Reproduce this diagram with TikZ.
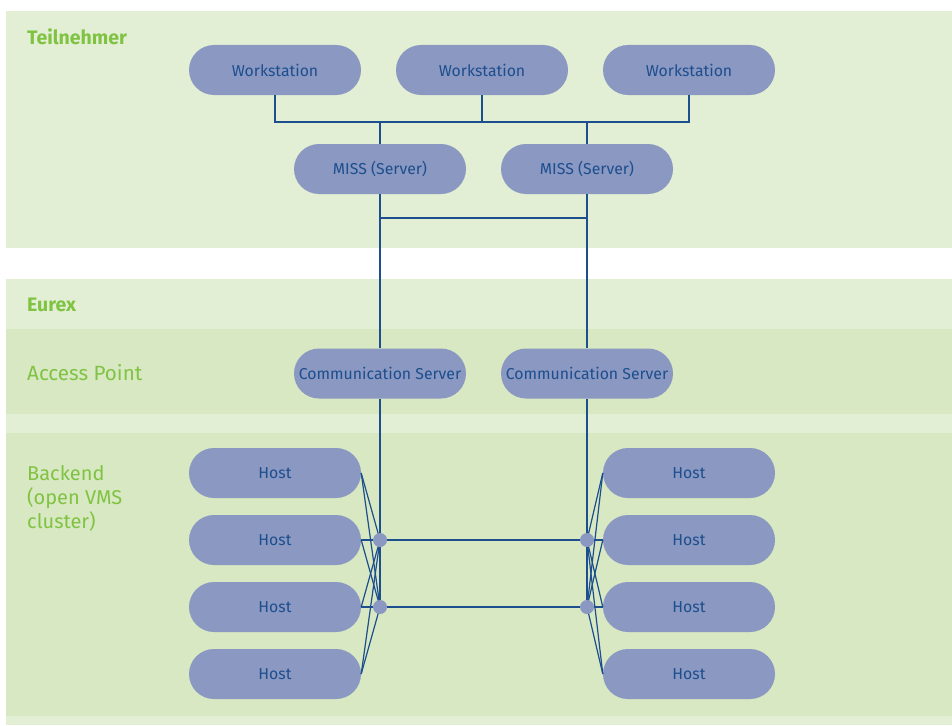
\documentclass[tikz,border=0pt]{standalone}
\usepackage{fontspec}
\setmainfont{Fira Sans}
\definecolor{bandA}{HTML}{E2EFD4}
\definecolor{bandB}{HTML}{D7E8C3}
\definecolor{boxfill}{HTML}{8A98C2}
\definecolor{ink}{HTML}{1D4E8E}
\definecolor{lbl}{HTML}{80C342}
\tikzset{
  x=1pt, y=-1pt,
  pill/.style={draw=none, fill=boxfill, rounded corners=25pt, minimum width=172pt, minimum height=50pt, inner sep=0pt, text=ink, font=\fontsize{15.8}{19}\selectfont},
  dot/.style={circle, fill=boxfill, minimum size=14pt, inner sep=0pt},
  conn/.style={draw=ink, line width=1.2pt},
  band/.style={anchor=west, inner sep=0pt, text=lbl, font=\fontsize{20.6}{24}\selectfont},
  bandbold/.style={anchor=west, inner sep=0pt, text=lbl, font=\fontsize{19.5}{23}\selectfont\bfseries},
}
\begin{document}
\begin{tikzpicture}
\useasboundingbox (0,0) rectangle (952,725);
\fill[white] (0,0) rectangle (952,725);
% bands
\fill[bandA] (6,11) rectangle (952,247.5);
\fill[bandA] (6,279) rectangle (952,329);
\fill[bandB] (6,329) rectangle (952,414);
\fill[bandA] (6,414) rectangle (952,433);
\fill[bandB] (6,433) rectangle (952,716);
\fill[bandA] (6,716) rectangle (952,725);
% labels
\node[bandbold] (lt) at (27,37) {Teilnehmer};
\node[bandbold] (le) at (27,305) {Eurex};
\node[band] (la) at (27,373) {Access Point};
\node[band, anchor=north west, align=left, font=\fontsize{20}{24}\selectfont] (lb) at (27,465) {Backend\\(open VMS\\cluster)};
% nodes
\node[pill] (ws1) at (275,70) {Workstation};
\node[pill] (ws2) at (482,70) {Workstation};
\node[pill] (ws3) at (689,70) {Workstation};
\node[pill] (miss1) at (380,169) {MISS (Server)};
\node[pill] (miss2) at (587,169) {MISS (Server)};
\node[pill] (cs1) at (380,373.5) {Communication Server};
\node[pill] (cs2) at (587,373.5) {Communication Server};
\foreach \i/\y in {1/473,2/540,3/607,4/674}{
  \node[pill] (hl\i) at (275,\y) {Host};
  \node[pill] (hr\i) at (689,\y) {Host};
}
% bus coordinates
\coordinate (b1) at (275,122);
\coordinate (b3) at (689,122);
\coordinate (m1) at (380,218);
\coordinate (m2) at (587,218);
\coordinate (dl1c) at (380,540);
\coordinate (dl2c) at (380,607);
\coordinate (dr1c) at (587,540);
\coordinate (dr2c) at (587,607);
% connectors
\draw[conn] (ws1) -- (b1) -- (b3) -- (ws3);
\draw[conn] (ws2) -- (ws2 |- b1);
\draw[conn] (miss1) -- (miss1 |- b1);
\draw[conn] (miss2) -- (miss2 |- b1);
\draw[conn] (miss1) -- (cs1);
\draw[conn] (miss2) -- (cs2);
\draw[conn] (m1) -- (m2);
\draw[conn] (cs1) -- (dl2c);
\draw[conn] (cs2) -- (dr2c);
\draw[conn] (dl1c) -- (dr1c);
\draw[conn] (dl2c) -- (dr2c);
\foreach \i in {1,2,3,4}{
  \draw[conn] (hl\i.east) -- (dl1c);
  \draw[conn] (hl\i.east) -- (dl2c);
  \draw[conn] (hr\i.west) -- (dr1c);
  \draw[conn] (hr\i.west) -- (dr2c);
}
% dots
\node[dot] (dl1) at (dl1c) {};
\node[dot] (dl2) at (dl2c) {};
\node[dot] (dr1) at (dr1c) {};
\node[dot] (dr2) at (dr2c) {};
\end{tikzpicture}
\end{document}
